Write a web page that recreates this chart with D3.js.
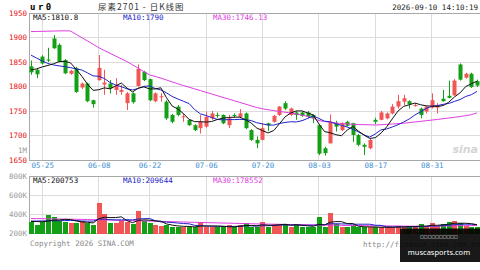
<!DOCTYPE html>
<html>
<head>
<meta charset="utf-8">
<script src="https://cdn.jsdelivr.net/npm/d3@7"></script>
<style>
  body { margin: 0; background: #fff; }
  svg { display: block; }
  text { font-family: 'DejaVu Sans Mono', monospace; font-size: 7.5px; }
</style>
</head>
<body>
<svg id="viz" width="480" height="270"></svg>
<script>
// trading days shown (2026)
const dates = [
  '05-21', '05-22', '05-25', '05-26', '05-27', '05-28', '05-29',
  '06-01', '06-02', '06-03', '06-04', '06-05', '06-08', '06-09', '06-10', '06-11', '06-12',
  '06-15', '06-16', '06-17', '06-18', '06-22', '06-23', '06-24', '06-25', '06-26',
  '06-29', '06-30', '07-01', '07-02', '07-03', '07-06', '07-07', '07-08', '07-09', '07-10',
  '07-13', '07-14', '07-15', '07-16', '07-17', '07-20', '07-21', '07-22', '07-23', '07-24',
  '07-27', '07-28', '07-29', '07-30', '07-31', '08-03', '08-04', '08-05', '08-06', '08-07',
  '08-10', '08-11', '08-12', '08-13', '08-14', '08-17', '08-18', '08-19', '08-20', '08-21',
  '08-24', '08-25', '08-26', '08-27', '08-28', '08-31', '09-01', '09-02', '09-03', '09-04',
  '09-07', '09-08', '09-09', '09-10'
];
const dateTicks = ['05-25', '06-08', '06-22', '07-06', '07-20', '08-03', '08-17', '08-31'];

const opens = [
  1841, 1834, 1861, 1855, 1898, 1885, 1854, 1826, 1837, 1798, 1806, 1772, 1813, 1804, 1806, 1793,
  1789, 1766, 1786, 1801, 1830, 1815, 1770, 1778, 1769, 1742, 1759, 1737, 1732, 1721, 1715, 1718,
  1735, 1742, 1742, 1721, 1742, 1738, 1745, 1711, 1691, 1691, 1725, 1728, 1742, 1766, 1742, 1747,
  1747, 1747, 1742, 1721, 1674, 1684, 1725, 1711, 1728, 1725, 1701, 1681, 1674, 1732, 1732, 1735,
  1745, 1759, 1769, 1770, 1761, 1755, 1749, 1757, 1757, 1775, 1781, 1782, 1845, 1818, 1826, 1811
];
const highs = [
  1853, 1837, 1864, 1879, 1905, 1888, 1856, 1834, 1840, 1808, 1808, 1773, 1864, 1834, 1813, 1817,
  1803, 1789, 1788, 1845, 1832, 1816, 1788, 1786, 1772, 1744, 1762, 1745, 1733, 1723, 1742, 1749,
  1750, 1747, 1743, 1742, 1745, 1754, 1747, 1713, 1698, 1725, 1726, 1742, 1760, 1770, 1757, 1750,
  1749, 1750, 1743, 1722, 1677, 1743, 1730, 1727, 1730, 1726, 1703, 1684, 1693, 1736, 1750, 1747,
  1764, 1783, 1783, 1772, 1766, 1757, 1760, 1786, 1766, 1793, 1812, 1815, 1847, 1828, 1828, 1814
];
const lows = [
  1824, 1817, 1845, 1850, 1877, 1849, 1825, 1824, 1787, 1795, 1768, 1757, 1812, 1783, 1786, 1783,
  1783, 1752, 1765, 1800, 1811, 1770, 1768, 1769, 1732, 1725, 1739, 1728, 1720, 1709, 1704, 1716,
  1732, 1736, 1723, 1715, 1736, 1735, 1713, 1689, 1674, 1690, 1709, 1726, 1740, 1752, 1740, 1732,
  1738, 1735, 1725, 1660, 1659, 1684, 1708, 1709, 1718, 1687, 1678, 1660, 1672, 1723, 1731, 1733,
  1743, 1755, 1762, 1755, 1759, 1735, 1745, 1755, 1745, 1769, 1776, 1781, 1812, 1816, 1797, 1799
];
const closes = [
  1829, 1825, 1847, 1853, 1878, 1851, 1827, 1832, 1789, 1806, 1770, 1764, 1838, 1808, 1796, 1801,
  1793, 1786, 1768, 1836, 1813, 1772, 1786, 1780, 1735, 1728, 1742, 1739, 1721, 1711, 1728, 1738,
  1745, 1741, 1725, 1735, 1741, 1745, 1715, 1691, 1684, 1715, 1721, 1740, 1759, 1755, 1755, 1742,
  1740, 1738, 1735, 1663, 1664, 1728, 1718, 1725, 1720, 1701, 1681, 1677, 1691, 1728, 1747, 1745,
  1759, 1770, 1776, 1764, 1762, 1742, 1759, 1772, 1762, 1770, 1777, 1812, 1814, 1826, 1799, 1802
];

const ma5 = [
  1834, 1836, 1840, 1843, 1846.4, 1850.8, 1851.2, 1848.2, 1835.4, 1821, 1804.8, 1792.2, 1793.4,
  1797.2, 1795.2, 1801.4, 1807.2, 1796.8, 1788.8, 1796.8, 1799.2, 1795, 1795, 1797.4, 1777.2,
  1760.2, 1754.2, 1744.8, 1733, 1728.2, 1728.2, 1727.4, 1728.6, 1732.6, 1735.4, 1736.8, 1737.4,
  1737.4, 1732.2, 1725.4, 1715.2, 1710, 1705.2, 1710.2, 1723.8, 1738, 1746, 1750.2, 1750.2, 1746,
  1742, 1723.6, 1708, 1705.6, 1701.6, 1699.6, 1711, 1718.4, 1709, 1700.8, 1694, 1695.6, 1704.8,
  1717.6, 1734, 1749.8, 1759.4, 1762.8, 1766.2, 1762.8, 1760.6, 1759.8, 1759.4, 1761, 1768,
  1778.6, 1787, 1799.8, 1805.6, 1810.8
];
const ma10 = [
  1864, 1858, 1852, 1847, 1844, 1842, 1840.5, 1838.5, 1836, 1833.7, 1827.8, 1821.7, 1820.8,
  1816.3, 1808.1, 1803.1, 1799.7, 1795.1, 1793, 1796, 1800.3, 1801.1, 1795.9, 1793.1, 1787,
  1779.7, 1774.6, 1769.9, 1765.2, 1752.7, 1744.2, 1740.8, 1736.7, 1732.8, 1731.8, 1732.5, 1732.4,
  1733, 1732.4, 1730.4, 1726, 1723.7, 1721.3, 1721.2, 1724.6, 1726.6, 1728, 1727.7, 1730.2,
  1734.9, 1740, 1734.8, 1729.1, 1727.9, 1723.8, 1720.8, 1717.3, 1713.2, 1707.3, 1701.2, 1696.8,
  1703.3, 1711.6, 1713.3, 1717.4, 1721.9, 1727.5, 1733.8, 1741.9, 1748.4, 1755.2, 1759.6, 1761.1,
  1763.6, 1765.4, 1769.6, 1773.4, 1779.6, 1783.3, 1790
];
const ma30 = [
  1912, 1912.3, 1912.6, 1912.9, 1913.2, 1913.5, 1913.7, 1913.3, 1906.4, 1899.7, 1892.9, 1886.2,
  1879.3, 1873.4, 1867.8, 1862.1, 1856.5, 1850.8, 1844.1, 1837.3, 1830.4, 1823.7, 1820.5, 1817.2,
  1813.3, 1809.4, 1805.5, 1802, 1798.6, 1795.1, 1791.7, 1788.2, 1784.8, 1781.3, 1777.8, 1774.4,
  1770.9, 1767.5, 1764, 1760.5, 1757, 1754.5, 1752.6, 1750.9, 1749.1, 1747.5, 1745.9, 1743.7,
  1741.5, 1739.1, 1735.2, 1730.4, 1728.7, 1727.2, 1725.7, 1724.5, 1723.6, 1722.8, 1722.4, 1722.1,
  1721.8, 1721.4, 1722, 1722.8, 1723.5, 1724.2, 1725, 1726.3, 1727.6, 1728.9, 1730.2, 1731.5,
  1732.8, 1734.3, 1735.7, 1737.1, 1738.7, 1740.6, 1742.5, 1746.13
];

const volumes = [
  321000, 287000, 321000, 392000, 374000, 332000, 321000, 311000, 311000, 332000, 311000, 287000,
  522000, 399000, 313000, 308000, 329000, 321000, 295000, 430000, 334000, 313000, 287000, 276000,
  292000, 271000, 269000, 269000, 269000, 269000, 316000, 269000, 269000, 263000, 263000, 287000,
  269000, 292000, 305000, 269000, 269000, 321000, 269000, 297000, 297000, 297000, 269000, 297000,
  269000, 269000, 269000, 374000, 269000, 409000, 297000, 269000, 269000, 276000, 269000, 269000,
  263000, 263000, 263000, 269000, 269000, 276000, 269000, 276000, 269000, 297000, 276000, 311000,
  276000, 297000, 321000, 332000, 311000, 276000, 269000, 269000
];
const volMa5 = [
  325000, 325000, 322000, 330000, 339000, 341000, 348000, 346000, 330000, 321000, 317000, 310000,
  353000, 370000, 366000, 366000, 374000, 334000, 313000, 337000, 342000, 339000, 332000, 328000,
  300000, 288000, 279000, 275000, 274000, 269000, 278000, 278000, 278000, 277000, 276000, 270000,
  270000, 275000, 283000, 284000, 281000, 291000, 287000, 285000, 291000, 296000, 286000, 291000,
  286000, 280000, 275000, 296000, 290000, 318000, 324000, 324000, 303000, 304000, 276000, 270000,
  269000, 268000, 265000, 265000, 265000, 268000, 269000, 272000, 272000, 277000, 277000, 286000,
  286000, 291000, 296000, 307000, 307000, 307000, 302000, 291000
];
const volMa10 = [
  330000, 330000, 331000, 332000, 333000, 334000, 335000, 336000, 336000, 330000, 329000, 329000,
  350000, 350000, 344000, 342000, 342000, 344000, 342000, 352000, 354000, 357000, 333000, 321000,
  319000, 315000, 309000, 304000, 301000, 285000, 283000, 279000, 277000, 276000, 273000, 274000,
  274000, 277000, 280000, 280000, 276000, 281000, 281000, 284000, 288000, 289000, 289000, 289000,
  286000, 286000, 286000, 291000, 291000, 302000, 302000, 300000, 300000, 297000, 297000, 297000,
  297000, 286000, 285000, 271000, 268000, 269000, 269000, 269000, 269000, 271000, 273000, 278000,
  279000, 282000, 287000, 292000, 297000, 297000, 297000, 294000
];
const volMa30 = [
  356000, 355000, 355000, 353000, 352000, 351000, 350000, 349000, 348000, 347000, 346000, 344000,
  343000, 342000, 341000, 339000, 337000, 336000, 334000, 333000, 331000, 330000, 328000, 327000,
  325000, 323000, 322000, 320000, 318000, 317000, 315000, 314000, 312000, 311000, 309000, 308000,
  306000, 305000, 303000, 302000, 300000, 299000, 298000, 297000, 296000, 295000, 294000, 293000,
  292000, 291000, 290000, 289000, 288000, 287000, 286000, 285000, 284000, 284000, 283000, 282000,
  281000, 281000, 280000, 279000, 278000, 278000, 277000, 276000, 276000, 275000, 275000, 276000,
  277000, 278000, 279000, 280000, 281000, 282000, 283000, 284000
];

const priceTicks = [1950, 1900, 1850, 1800, 1750, 1700, 1650];
const volTicks = [800000, 600000, 400000, 200000];
const maLabels = ['MA5:1810.8', 'MA10:1790', 'MA30:1746.13'];
const volMaLabels = ['MA5:200753', 'MA10:209644', 'MA30:178552'];
const maColors = ['#111', '#2222cc', '#e03ce0'];

const left = 29.5;
const right = 480;
const mainTop = 13;
const mainBottom = 160;
const volTop = 176;
const volBottom = 233.5;
const up = '#f25555';
const down = '#14a014';

var svg = d3.select('#viz');

var x = d3.scalePoint().domain(dates).range([31, 477]);
var y = d3.scaleLinear().domain([1650, 1950]).range([mainBottom, mainTop]);
var yV = d3.scaleLinear().domain([200000, 800000]).range([volBottom, volTop]);

// grid
var grid = svg.append('g').attr('stroke', '#dcdcdc').attr('shape-rendering', 'crispEdges');
grid
  .selectAll('.hgrid')
  .data(priceTicks.slice(1, -1))
  .join('line')
  .attr('class', 'hgrid')
  .attr('x1', left)
  .attr('x2', right)
  .attr('y1', (d) => y(d))
  .attr('y2', (d) => y(d));
grid
  .selectAll('.vhgrid')
  .data(volTicks.slice(1, -1))
  .join('line')
  .attr('class', 'vhgrid')
  .attr('x1', left)
  .attr('x2', right)
  .attr('y1', (d) => yV(d))
  .attr('y2', (d) => yV(d));
grid
  .selectAll('.vgrid')
  .data(dateTicks)
  .join('line')
  .attr('class', 'vgrid')
  .attr('x1', (d) => x(d))
  .attr('x2', (d) => x(d))
  .attr('y1', mainTop)
  .attr('y2', mainBottom);
grid
  .selectAll('.vvgrid')
  .data(dateTicks)
  .join('line')
  .attr('class', 'vvgrid')
  .attr('x1', (d) => x(d))
  .attr('x2', (d) => x(d))
  .attr('y1', volTop)
  .attr('y2', volBottom);

// panel borders
var border = svg.append('g').attr('stroke', '#a8a8a8').attr('fill', 'none').attr('shape-rendering', 'crispEdges');
border.append('path').attr('d', `M${right},${mainTop}H${left}V${mainBottom}H${right}`);
border.append('path').attr('d', `M${right},${volTop}H${left}V${volBottom}H${right}`);

// axes
svg
  .append('g')
  .attr('transform', 'translate(27,0)')
  .call(d3.axisLeft(y).tickValues(priceTicks).tickSize(0).tickPadding(0).tickFormat(d3.format('d')))
  .call((g) => g.select('.domain').remove())
  .selectAll('text')
  .attr('fill', '#e81010');

svg
  .append('g')
  .attr('transform', 'translate(0,' + mainBottom + ')')
  .call(d3.axisBottom(x).tickValues(dateTicks).tickSize(0).tickPadding(3))
  .call((g) => g.select('.domain').remove())
  .selectAll('text')
  .attr('fill', '#3f8fd2');

svg
  .append('g')
  .attr('transform', 'translate(27,0)')
  .call(
    d3
      .axisLeft(yV)
      .tickValues(volTicks)
      .tickSize(0)
      .tickPadding(0)
      .tickFormat((d) => d / 1000 + 'K')
  )
  .call((g) => g.select('.domain').remove())
  .selectAll('text')
  .attr('fill', '#9a9a9a');

svg.append('text').attr('x', 27).attr('y', 152.5).attr('text-anchor', 'end').attr('fill', '#9a9a9a').text('1M');

// candles
var candles = svg
  .append('g')
  .selectAll('g')
  .data(dates)
  .join('g')
  .attr('fill', (d, i) => (closes[i] >= opens[i] ? up : down))
  .attr('stroke', (d, i) => (closes[i] >= opens[i] ? up : down));

candles
  .append('line')
  .attr('x1', (d) => Math.round(x(d)) + 0.5)
  .attr('x2', (d) => Math.round(x(d)) + 0.5)
  .attr('y1', (d, i) => y(highs[i]))
  .attr('y2', (d, i) => y(lows[i]));

candles
  .append('rect')
  .attr('stroke', 'none')
  .attr('x', (d) => Math.round(x(d)) - 1.5)
  .attr('width', 4)
  .attr('y', (d, i) => y(Math.max(opens[i], closes[i])))
  .attr('height', (d, i) => Math.max(1, Math.abs(y(opens[i]) - y(closes[i]))));

// moving averages
var line = (vals, sy) =>
  d3
    .line()
    .x((d, i) => x(dates[i]))
    .y((d) => sy(d))(vals);

[ma30, ma10, ma5].forEach((vals, k) => {
  svg
    .append('path')
    .attr('d', line(vals, y))
    .attr('fill', 'none')
    .attr('stroke', maColors[2 - k])
    .attr('stroke-width', 1);
});

// volume
svg
  .append('g')
  .attr('shape-rendering', 'crispEdges')
  .selectAll('rect')
  .data(volumes)
  .join('rect')
  .attr('x', (d, i) => Math.round(x(dates[i])) - 2)
  .attr('width', 5)
  .attr('y', (d) => yV(d))
  .attr('height', (d) => volBottom - yV(d))
  .attr('fill', (d, i) => (closes[i] >= opens[i] ? up : down));

[volMa30, volMa10, volMa5].forEach((vals, k) => {
  svg
    .append('path')
    .attr('d', line(vals, yV))
    .attr('fill', 'none')
    .attr('stroke', maColors[2 - k])
    .attr('stroke-width', 1);
});

// legend texts
[maLabels, volMaLabels].forEach((labels, p) => {
  svg
    .append('g')
    .selectAll('text')
    .data(labels)
    .join('text')
    .attr('x', (d, i) => 33 + i * 90)
    .attr('y', p == 0 ? 20 : 182.5)
    .attr('fill', (d, i) => maColors[i])
    .text((d) => d);
});

// header
svg.append('text').attr('x', 30).attr('y', 10).attr('font-weight', 'bold').style('font-size', '9px').style('letter-spacing', '2.5px').text('ur0');
svg
  .append('text')
  .attr('x', 98)
  .attr('y', 10.2)
  .style('font-family', "'Noto Sans CJK SC', sans-serif")
  .style('font-size', '8.5px')
  .style('letter-spacing', '1px')
  .attr('fill', '#333')
  .text('尿素2701 - 日K线图');
svg.append('text').attr('x', 478).attr('y', 9.5).attr('text-anchor', 'end').attr('fill', '#222').text('2026-09-10 14:10:19');

// watermark
svg
  .append('text')
  .attr('x', 478)
  .attr('y', 153)
  .attr('text-anchor', 'end')
  .style('font-family', "'DejaVu Sans', sans-serif")
  .style('font-size', '11px')
  .style('font-style', 'italic')
  .style('font-weight', 'bold')
  .attr('fill', '#d4d4d4')
  .text('sina');

// footer
svg.append('text').attr('x', 30).attr('y', 245.5).attr('fill', '#8a8a8a').text('Copyright 2026 SINA.COM');
svg.append('text').attr('x', 363).attr('y', 246.5).attr('fill', '#8a8a8a').text('http://finance.sina.com.cn');

svg.append('rect').attr('x', 400).attr('y', 228.5).attr('width', 80).attr('height', 33.5).attr('fill', 'rgba(0,0,0,0.9)');
svg
  .append('text')
  .attr('x', 439)
  .attr('y', 237.5)
  .attr('text-anchor', 'middle')
  .style('font-family', "'DejaVu Sans', sans-serif")
  .style('font-size', '4px')
  .attr('fill', '#fff')
  .text('□□□□□□□□□□');
svg
  .append('text')
  .attr('x', 439)
  .attr('y', 255)
  .attr('text-anchor', 'middle')
  .style('font-family', "'Noto Sans', sans-serif")
  .style('font-size', '7.5px')
  .attr('fill', '#fff')
  .text('muscasports.com');
</script>
</body>
</html>
